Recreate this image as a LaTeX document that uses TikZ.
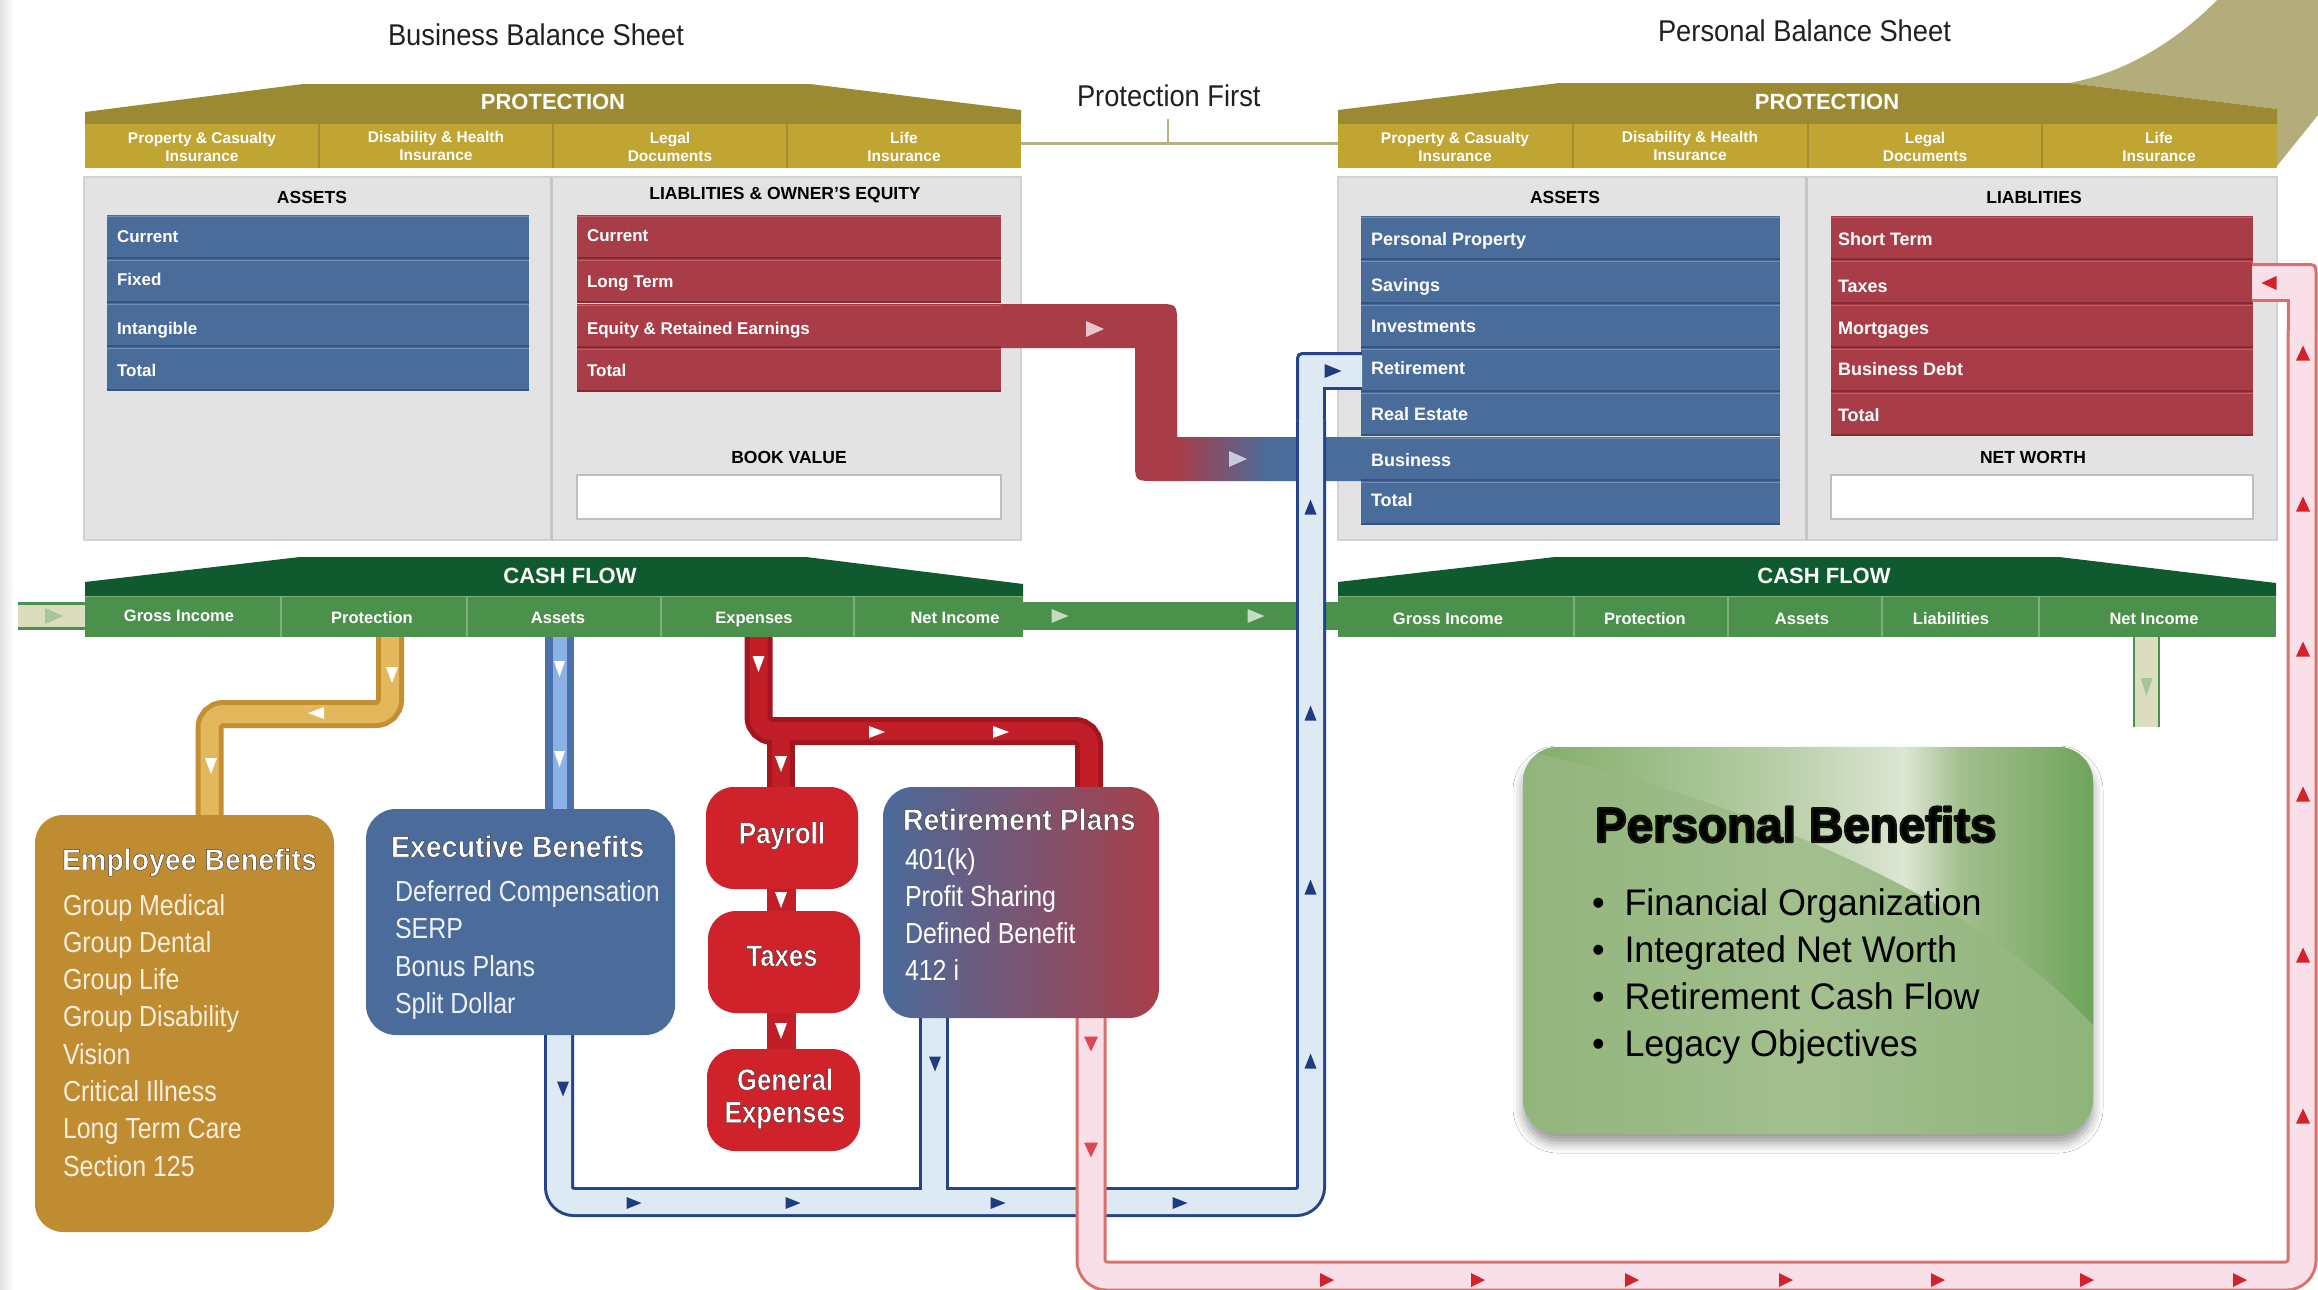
\documentclass[tikz,border=0pt]{standalone}
\usepackage{fontspec}
\setmainfont{Liberation Sans}
\newfontfamily\condf{Liberation Sans}[FakeStretch=0.86]
\newfontfamily\titlecondf{Liberation Sans}[FakeStretch=0.95]
\newfontfamily\headf{Liberation Sans}[FakeStretch=0.91]
\newfontfamily\pbfont{Liberation Sans}[FakeStretch=0.97]
\usetikzlibrary{shadows.blur}

\definecolor{roofgold}{HTML}{9C8A33}
\definecolor{bandgold}{HTML}{C1A533}
\definecolor{golddiv}{HTML}{A38D2C}
\definecolor{swoosh}{HTML}{B3AD7B}
\definecolor{lineolive}{HTML}{B7B183}
\definecolor{panelgray}{HTML}{E3E3E3}
\definecolor{paneledge}{HTML}{D2D2D2}
\definecolor{paneldiv}{HTML}{C6C6C6}
\definecolor{rowblue}{HTML}{4A6C9B}
\definecolor{rowbluedk}{HTML}{34557F}
\definecolor{rowbluelt}{HTML}{6F8DB6}
\definecolor{rowred}{HTML}{A83D48}
\definecolor{rowreddk}{HTML}{862A34}
\definecolor{rowredlt}{HTML}{BF6069}
\definecolor{roofgreen}{HTML}{0F5A2F}
\definecolor{bandgreen}{HTML}{4B904B}
\definecolor{greendiv}{HTML}{7DB078}
\definecolor{stubfill}{HTML}{DCDCBF}
\definecolor{palegreen}{HTML}{A6C699}
\definecolor{paleflow}{HTML}{C6DCC1}
\definecolor{palepink}{HTML}{E6C6CB}
\definecolor{palelav}{HTML}{C6CBE0}
\definecolor{empgold}{HTML}{C08C31}
\definecolor{empitem}{HTML}{F7EEDB}
\definecolor{goldpipe}{HTML}{C48E33}
\definecolor{goldpipein}{HTML}{E3B85C}
\definecolor{execblue}{HTML}{4B6B9A}
\definecolor{execitem}{HTML}{EEF2F8}
\definecolor{bluepipe}{HTML}{4C71AA}
\definecolor{bluepipein}{HTML}{8DB0E7}
\definecolor{navy}{HTML}{24438A}
\definecolor{navyarrow}{HTML}{1F3C80}
\definecolor{lightblue}{HTML}{DDEAF4}
\definecolor{boxred}{HTML}{D0222B}
\definecolor{redpipe}{HTML}{A3161F}
\definecolor{redpipein}{HTML}{C21E27}
\definecolor{retblue}{HTML}{4A6B9B}
\definecolor{retred}{HTML}{A83F4A}
\definecolor{pinkfill}{HTML}{F9DFE8}
\definecolor{pinkedge}{HTML}{D9716B}
\definecolor{pinkarrow}{HTML}{D4222C}
\definecolor{pinkarrowlt}{HTML}{E04653}
\definecolor{inktext}{HTML}{231F20}
\definecolor{pbleft}{HTML}{92B57C}
\definecolor{pbmid}{HTML}{A3BF8E}
\definecolor{pbright}{HTML}{8FB47A}
\definecolor{pbdark}{HTML}{7FAD67}
\definecolor{pblight}{HTML}{DCE6D2}
\definecolor{pbsoft}{HTML}{B8CEA7}
\definecolor{pbrim}{HTML}{6EA45A}

% glyphs filled in the text colour and stroked with a rim: rgb, rim width, text
\newcommand\rimtext[3]{\special{pdf:literal direct 2 Tr #2 w 1 j #1 RG}#3\special{pdf:literal direct 0 Tr}}
\newcommand\olt[1]{\rimtext{0.2 0.18 0.18}{0.4}{#1}}
\newcommand\halo[1]{\rimtext{0.06 0.08 0.05}{2.2}{#1}}

% flow arrowhead: x, y, angle, colour, length, half width
\newcommand\flowtip[6]{\fill[#4, shift={(#1,#2)}, rotate=#3] (#5/2,0) -- (-#5/2,#6) -- (-#5/2,-#6) -- cycle;}

\begin{document}
\begin{tikzpicture}[x=1pt,y=-1pt,
  every node/.style={inner sep=0pt, outer sep=0pt},
  sheettitle/.style={anchor=base west, text=inktext, font=\headf\fontsize{30}{36}\selectfont},
  rooflab/.style={text=white, font=\bfseries\fontsize{22}{26}\selectfont},
  cellab/.style={text=white, align=center, font=\bfseries\fontsize{15.5}{18.5}\selectfont},
  colhead/.style={text=black, font=\bfseries\fontsize{17.5}{21}\selectfont},
  rowlab/.style={anchor=base west, text=white, font=\bfseries\fontsize{17}{20}\selectfont},
  prowlab/.style={anchor=base west, text=white, font=\bfseries\fontsize{18}{21}\selectfont},
  cashlab/.style={anchor=base, text=white, font=\bfseries\fontsize{16.5}{20}\selectfont},
  boxtitle/.style={anchor=base west, text=white, font=\titlecondf\bfseries\fontsize{30}{36}\selectfont},
  boxitem/.style={anchor=base west, font=\condf\fontsize{29}{35}\selectfont},
  redtitle/.style={anchor=base, text=white, font=\condf\bfseries\fontsize{30}{36}\selectfont},
  pbtitle/.style={anchor=base west, font=\pbfont\bfseries\fontsize{49}{58}\selectfont},
  pbitem/.style={anchor=base west, text=black, font=\pbfont\fontsize{37}{44}\selectfont},
  panel/.style={fill=panelgray, draw=paneledge, line width=1.5pt},
  goldout/.style={draw=goldpipe, line width=28pt, rounded corners=14pt},
  goldin/.style={draw=goldpipein, line width=18pt, rounded corners=14pt},
  blueout/.style={draw=bluepipe, line width=29pt},
  bluein/.style={draw=bluepipein, line width=14pt},
  redout/.style={draw=redpipe, line width=28pt, rounded corners=14pt},
  redin/.style={draw=redpipein, line width=18pt, rounded corners=14pt},
  navyout/.style={draw=navy, line width=30pt, rounded corners=15pt},
  navyin/.style={draw=lightblue, line width=24pt, rounded corners=15pt},
  pinkout/.style={draw=pinkedge, line width=31pt, rounded corners=16pt},
  pinkin/.style={draw=pinkfill, line width=25pt, rounded corners=16pt},
  flowbox/.style={anchor=north west, rounded corners=28pt}
]
\useasboundingbox (0,0) rectangle (2318,1290);
\fill[white] (0,0) rectangle (2318,1290);
\shade[left color=black!12, right color=white] (0,0) rectangle (14,1290);

% ---------- headings ----------
\fill[swoosh] (2069,83) .. controls (2130,72) and (2182,36) .. (2217,0) -- (2318,0) -- (2318,115) -- (2277,166) -- (2277,109) -- cycle;
\node[sheettitle] (bbs) at (388,46) {Business Balance Sheet};
\node[sheettitle] (pbs) at (1658,42) {Personal Balance Sheet};
\node[sheettitle] (pfirst) at (1077,106) {Protection First};
\coordinate (pf-l) at (1021,143);
\coordinate (pf-r) at (1338,143);
\coordinate (pf-m) at (1168,143);
\coordinate (pf-t) at (1168,119);
\draw[lineolive, line width=3pt] (pf-l) -- (pf-r);
\draw[lineolive, line width=2.5pt] (pf-t) -- (pf-m);

% ---------- protection roofs ----------
\fill[roofgold] (85,112) -- (303,84) -- (810,84) -- (1021,110) -- (1021,124) -- (85,124) -- cycle;
\fill[bandgold] (85,124) rectangle (1021,168);
\foreach \x in {319,553,787} \draw[golddiv, line width=2pt] (\x,124) -- (\x,168);
\fill[roofgold] (1338,110) -- (1559,83) -- (2069,83) -- (2277,109) -- (2277,124) -- (1338,124) -- cycle;
\fill[bandgold] (1338,124) rectangle (2277,168);
\foreach \x in {1573,1808,2042} \draw[golddiv, line width=2pt] (\x,124) -- (\x,168);

\node[rooflab] (bprot) at (553,102) {PROTECTION};
\node[rooflab] (pprot) at (1827,102) {PROTECTION};
\node[cellab] (bpc1) at (202,147) {Property \& Casualty\\Insurance};
\node[cellab] (bpc2) at (436,146) {Disability \& Health\\Insurance};
\node[cellab] (bpc3) at (670,147) {Legal\\Documents};
\node[cellab] (bpc4) at (904,147) {Life\\Insurance};
\node[cellab] (ppc1) at (1455,147) {Property \& Casualty\\Insurance};
\node[cellab] (ppc2) at (1690,146) {Disability \& Health\\Insurance};
\node[cellab] (ppc3) at (1925,147) {Legal\\Documents};
\node[cellab] (ppc4) at (2159,147) {Life\\Insurance};

% ---------- balance sheet panels ----------
\path[panel] (84,177) rectangle (1021,540);
\draw[paneldiv, line width=3pt] (551,177) -- (551,540);
\path[panel] (1338,177) rectangle (2277,540);
\draw[paneldiv, line width=3pt] (1806,177) -- (1806,540);

\node[colhead] (bah) at (312,197) {ASSETS};
\node[colhead] (blh) at (785,195) {LIABLITIES \& OWNER'S EQUITY};
\node[colhead] (pah) at (1565,197) {ASSETS};
\node[colhead] (plh) at (2034,197) {LIABLITIES};

% business assets
\foreach \t in {215,259,303,347} {
  \fill[rowblue] (107,\t) rectangle (529,\t+44);
  \draw[rowbluedk, line width=2.5pt] (107,\t+43) -- (529,\t+43);
  \draw[rowbluelt, line width=1pt] (107,\t+1) -- (529,\t+1);
}
\node[rowlab] (ba1) at (117,242) {Current};
\node[rowlab] (ba2) at (117,285) {Fixed};
\node[rowlab] (ba3) at (117,334) {Intangible};
\node[rowlab] (ba4) at (117,376) {Total};

% business liabilities
\foreach \t in {215,259,304,348} {
  \fill[rowred] (577,\t) rectangle (1001,\t+44);
  \draw[rowreddk, line width=2.5pt] (577,\t+43) -- (1001,\t+43);
  \draw[rowredlt, line width=1pt] (577,\t+1) -- (1001,\t+1);
}
\node[rowlab] (bl1) at (587,241) {Current};
\node[rowlab] (bl2) at (587,287) {Long Term};
\node[rowlab] (bl3) at (587,334) {Equity \& Retained Earnings};
\node[rowlab] (bl4) at (587,376) {Total};

\node[colhead] (bookv) at (789,457) {BOOK VALUE};
\fill[white, draw=black!25, line width=1.5pt] (577,475) rectangle (1001,519);

% personal assets
\foreach \t in {216,260,304,348,392,437,481} {
  \fill[rowblue] (1361,\t) rectangle (1780,\t+44);
  \draw[rowbluedk, line width=2.5pt] (1361,\t+43) -- (1780,\t+43);
  \draw[rowbluelt, line width=1pt] (1361,\t+1) -- (1780,\t+1);
}
\node[prowlab] (pa1) at (1371,245) {Personal Property};
\node[prowlab] (pa2) at (1371,291) {Savings};
\node[prowlab] (pa3) at (1371,332) {Investments};
\node[prowlab] (pa4) at (1371,374) {Retirement};
\node[prowlab] (pa5) at (1371,420) {Real Estate};
\node[prowlab] (pa6) at (1371,466) {Business};
\node[prowlab] (pa7) at (1371,506) {Total};

% personal liabilities
\foreach \t in {216,260,304,348,392} {
  \fill[rowred] (1831,\t) rectangle (2253,\t+44);
  \draw[rowreddk, line width=2.5pt] (1831,\t+43) -- (2253,\t+43);
  \draw[rowredlt, line width=1pt] (1831,\t+1) -- (2253,\t+1);
}
\node[prowlab] (pl1) at (1838,245) {Short Term};
\node[prowlab] (pl2) at (1838,292) {Taxes};
\node[prowlab] (pl3) at (1838,334) {Mortgages};
\node[prowlab] (pl4) at (1838,375) {Business Debt};
\node[prowlab] (pl5) at (1838,421) {Total};

\node[colhead] (netw) at (2033,457) {NET WORTH};
\fill[white, draw=black!25, line width=1.5pt] (1831,475) rectangle (2253,519);

% equity carried over into the personal business asset
\begin{scope}
\clip (1001,304) -- (1157,304) .. controls (1177,304) .. (1177,324) -- (1177,437) -- (1361,437)
  -- (1361,481) -- (1155,481) .. controls (1135,481) .. (1135,461) -- (1135,348) -- (1001,348) -- cycle;
\fill[rowred] (1000,300) rectangle (1178,490);
\shade[left color=rowred, right color=rowblue] (1177,300) rectangle (1268,490);
\fill[rowblue] (1267,300) rectangle (1362,490);
\end{scope}

% ---------- cash flow ----------
\fill[roofgreen] (85,582) -- (300,557) -- (806,557) -- (1023,584) -- (1023,596) -- (85,596) -- cycle;
\fill[bandgreen] (85,596) rectangle (1023,637);
\draw[greendiv, line width=1pt] (85,596) -- (1023,596);
\foreach \x in {281,467,661,854} \draw[greendiv, line width=1.5pt] (\x,596) -- (\x,637);
\fill[roofgreen] (1338,582) -- (1555,557) -- (2059,557) -- (2276,583) -- (2276,596) -- (1338,596) -- cycle;
\fill[bandgreen] (1338,596) rectangle (2276,637);
\draw[greendiv, line width=1pt] (1338,596) -- (2276,596);
\foreach \x in {1574,1728,1882,2039} \draw[greendiv, line width=1.5pt] (\x,596) -- (\x,637);

\node[rooflab, anchor=base] (bcash) at (570,583) {CASH FLOW};
\node[rooflab, anchor=base] (pcash) at (1824,583) {CASH FLOW};
\node[cashlab] (bc1) at (179,621) {Gross Income};
\node[cashlab] (bc2) at (372,623) {Protection};
\node[cashlab] (bc3) at (558,623) {Assets};
\node[cashlab] (bc4) at (754,623) {Expenses};
\node[cashlab] (bc5) at (955,623) {Net Income};
\node[cashlab] (pc1) at (1448,624) {Gross Income};
\node[cashlab] (pc2) at (1645,624) {Protection};
\node[cashlab] (pc3) at (1802,624) {Assets};
\node[cashlab] (pc4) at (1951,624) {Liabilities};
\node[cashlab] (pc5) at (2154,624) {Net Income};

% inflow stub and the strip between the two sheets
\fill[stubfill] (18,602) rectangle (85,630);
\draw[bandgreen, line width=3pt] (18,603.5) -- (85,603.5) (18,628.5) -- (85,628.5);
\fill[bandgreen] (1023,602) rectangle (1338,630);
% net income outflow stub
\fill[stubfill] (2133,637) rectangle (2160,727);
\draw[bandgreen, line width=2.5pt] (2134,637) -- (2134,727) (2159,637) -- (2159,727);

% ---------- pipes ----------
\coordinate (g1) at (390,637);
\coordinate (g2) at (390,714);
\coordinate (g3) at (209.5,714);
\coordinate (g4) at (209.5,820);
\draw[goldout] (g1) -- (g2) -- (g3) -- (g4);
\draw[goldin] (g1) -- (g2) -- (g3) -- (g4);

\coordinate (a1) at (559.5,637);
\coordinate (a2) at (559.5,815);
\draw[blueout] (a1) -- (a2);
\draw[bluein] (a1) -- (a2);

\coordinate (x1) at (758.5,637);
\coordinate (x2) at (758.5,731);
\coordinate (x3) at (1089,731);
\coordinate (x4) at (1089,792);
\coordinate (x5) at (781,731);
\coordinate (x6) at (781,792);
\coordinate (x7) at (781,880);
\coordinate (x8) at (781,920);
\coordinate (x9) at (781,1005);
\coordinate (x10) at (781,1058);
\draw[redout] (x1) -- (x2) -- (x3) -- (x4);
\draw[redout] (x5) -- (x6);
\draw[redin] (x1) -- (x2) -- (x3) -- (x4);
\draw[redin] (x5) -- (x6);
\draw[draw=redpipein, line width=29pt] (x7) -- (x8);
\draw[draw=redpipein, line width=29pt] (x9) -- (x10);

% return to the personal retirement asset
\coordinate (n1) at (559,1000);
\coordinate (n2) at (559,1202);
\coordinate (n3) at (1311,1202);
\coordinate (n4) at (1311,420);
\coordinate (n5) at (934,1000);
\coordinate (n6) at (934,1202);
\draw[navyout] (n1) -- (n2) -- (n3) -- (n4);
\draw[navyout] (n5) -- (n6);
\draw[navyin] (n1) -- (n2) -- (n3) -- (n4);
\draw[navyin, rounded corners=0pt] (n5) -- (n6);
\fill[lightblue] (1296,420) -- (1296,364) .. controls (1296,352) .. (1308,352) -- (1362,352) -- (1362,390) -- (1326,390) -- (1326,420) -- cycle;
\draw[navy, line width=3pt] (1297.5,420) -- (1297.5,364) .. controls (1297.5,353.5) .. (1308,353.5) -- (1362,353.5);
\draw[navy, line width=3pt] (1362,388.5) -- (1324.5,388.5) -- (1324.5,420);

% tax flow back to the personal taxes liability
\coordinate (k1) at (1091,1000);
\coordinate (k2) at (1091,1276);
\coordinate (k3) at (2302,1276);
\coordinate (k4) at (2302,330);
\draw[pinkout] (k1) -- (k2) -- (k3) -- (k4);
\draw[pinkin] (k1) -- (k2) -- (k3) -- (k4);
\fill[pinkfill] (2252,263) -- (2305,263) .. controls (2317.5,263) .. (2317.5,275) -- (2317.5,331) -- (2286.5,331) -- (2286.5,302) -- (2252,302) -- cycle;
\draw[pinkedge, line width=3pt] (2252,264.5) -- (2305,264.5) .. controls (2316,264.5) .. (2316,276) -- (2316,331);
\draw[pinkedge, line width=3pt] (2252,300.5) -- (2288,300.5) -- (2288,331);

% ---------- benefit boxes ----------
\node[flowbox, fill=empgold, minimum width=299pt, minimum height=417pt] (emp) at (35,815) {};
\node[boxtitle] (emp-t) at (62,870) {\olt{Employee Benefits}};
\foreach \t [count=\i from 0] in {Group Medical, Group Dental, Group Life, Group Disability, Vision, Critical Illness, Long Term Care, Section 125}
  \node[boxitem, text=empitem] (emp-\i) at (63,915+\i*37.3) {\t};

\node[flowbox, rounded corners=30pt, fill=execblue, minimum width=309pt, minimum height=226pt] (exe) at (366,809) {};
\node[boxtitle] (exe-t) at (391,857) {\olt{Executive Benefits}};
\foreach \t [count=\i from 0] in {Deferred Compensation, SERP, Bonus Plans, Split Dollar}
  \node[boxitem, text=execitem] (exe-\i) at (395,901.5+\i*37.3) {\t};

\node[flowbox, fill=boxred, minimum width=152pt, minimum height=102pt] (pay) at (706,787) {};
\node[flowbox, fill=boxred, minimum width=152pt, minimum height=102pt] (tax) at (708,911) {};
\node[flowbox, fill=boxred, minimum width=153pt, minimum height=102pt] (gen) at (707,1049) {};
\node[redtitle] (pay-t) at (782,843.5) {\olt{Payroll}};
\node[redtitle] (tax-t) at (782,966) {\olt{Taxes}};
\node[redtitle] (gen-t1) at (785,1090) {\olt{General}};
\node[redtitle] (gen-t2) at (785,1122.5) {\olt{Expenses}};

\node[flowbox, rounded corners=30pt, left color=retblue, right color=retred, minimum width=276pt, minimum height=231pt] (ret) at (883,787) {};
\node[boxtitle] (ret-t) at (903,830) {\olt{Retirement Plans}};
\foreach \t [count=\i from 0] in {401(k), Profit Sharing, Defined Benefit, 412 i}
  \node[boxitem, text=white] (ret-\i) at (905,869+\i*37.2) {\t};

% ---------- arrowheads ----------
\flowtip{392}{675}{-90}{white}{16}{6}
\flowtip{316}{713}{180}{white}{16}{6}
\flowtip{211}{766}{-90}{white}{16}{6}
\flowtip{559.5}{669}{-90}{white}{16}{5.5}
\flowtip{559.5}{759}{-90}{white}{16}{5.5}
\flowtip{758.5}{664}{-90}{white}{16}{6}
\flowtip{877}{732}{0}{white}{16}{6}
\flowtip{1001}{732}{0}{white}{16}{6}
\flowtip{781}{764}{-90}{white}{16}{6}
\flowtip{781}{900}{-90}{white}{16}{6}
\flowtip{781}{1031}{-90}{white}{16}{6}
\flowtip{1095}{329}{0}{palepink}{18}{8}
\flowtip{1238}{459}{0}{palelav}{18}{8}
\flowtip{54}{616}{0}{palegreen}{18}{8}
\flowtip{1060}{616}{0}{paleflow}{17}{7}
\flowtip{1256}{616}{0}{paleflow}{17}{7}
\flowtip{2146.5}{687}{-90}{palegreen}{18}{6}
\flowtip{563}{1089}{-90}{navyarrow}{15}{6}
\flowtip{935}{1064}{-90}{navyarrow}{15}{6}
\foreach \x in {634,793,998,1180} {\flowtip{\x}{1203}{0}{navyarrow}{15}{6}}
\foreach \y in {507,713,887,1061} {\flowtip{1310.5}{\y}{90}{navyarrow}{15}{6}}
\flowtip{1333}{371}{0}{navyarrow}{17}{7}
\flowtip{1091}{1044}{-90}{pinkarrowlt}{15}{7}
\flowtip{1091}{1150}{-90}{pinkarrowlt}{15}{7}
\foreach \x in {1327,1478,1632,1786,1938,2087,2240} {\flowtip{\x}{1280}{0}{pinkarrow}{14}{7}}
\foreach \y in {353,504,649,794,955,1116} {\flowtip{2303}{\y}{90}{pinkarrow}{15}{7}}
\flowtip{2269}{283}{180}{pinkarrow}{15}{7}

% ---------- personal benefits ----------
\node[anchor=north west, rounded corners=35pt, fill=pbleft, minimum width=570pt, minimum height=387pt,
  blur shadow={shadow xshift=0pt, shadow yshift=-9pt, shadow blur radius=10pt, shadow opacity=40}] (pben) at (1523,747) {};
\begin{scope}
\clip[rounded corners=35pt] (1523,747) rectangle (2093,1134);
\shade[left color=pbleft, right color=pbright, middle color=pbmid] (1523,747) rectangle (2093,1134);
\clip (1523,750) .. controls (1700,790) and (1960,880) .. (2093,1025) -- (2093,740) -- (1523,740) -- cycle;
\shade[left color=pbdark, right color=pbsoft] (1522,740) rectangle (1781,1030);
\shade[left color=pbsoft, right color=pblight] (1780,740) rectangle (1906,1030);
\shade[left color=pblight, right color=pbmid] (1905,740) rectangle (1961,1030);
\shade[left color=pbmid, right color=pbrim] (1960,740) rectangle (2094,1030);
\end{scope}
\node[pbtitle, text=black] (pben-t) at (1595,842) {\halo{Personal Benefits}};
\foreach \t [count=\i from 0] in {Financial Organization, Integrated Net Worth, Retirement Cash Flow, Legacy Objectives} {
  \node[pbitem] (pbul-\i) at (1592,915+\i*47.3) {\textbullet};
  \node[pbitem] (pben-\i) at (1624.5,915+\i*47.3) {\t};
}
\end{tikzpicture}
\end{document}
